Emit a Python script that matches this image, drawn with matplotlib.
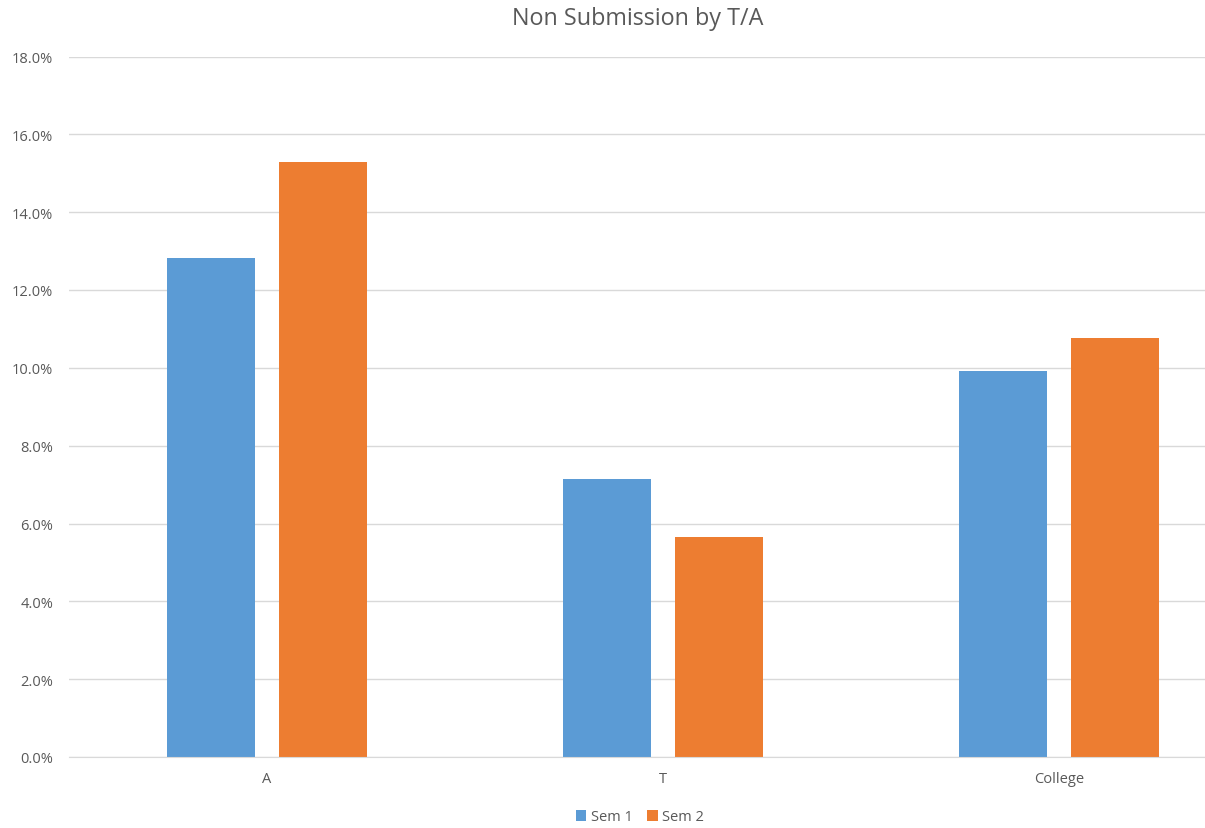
import numpy as np
import matplotlib.pyplot as plt
from matplotlib.ticker import PercentFormatter

categories = ["A", "T", "College"]
sem1 = [12.82, 7.14, 9.92]
sem2 = [15.29, 5.65, 10.77]
series_names = ["Sem 1", "Sem 2"]

blue = "#5b9bd5"
orange = "#ed7d31"
grey_text = "#595959"
grid_col = "#d9d9d9"

plt.rcParams["font.family"] = ["Open Sans", "DejaVu Sans"]

fig = plt.figure(figsize=(12.05, 8.29), dpi=100)
# plot area runs past the right edge of the figure
ax = fig.add_axes([69 / 1205, 71 / 829, 1188 / 1205, 700.5 / 829])

x = np.arange(len(categories))
w = 0.222
off = 0.141
b1 = ax.bar(x - off, sem1, w, color=blue, label=series_names[0], zorder=3)
b2 = ax.bar(x + off, sem2, w, color=orange, label=series_names[1], zorder=3)

ax.set_xlim(-0.5, 2.5)
ax.set_ylim(0, 18)
ax.set_yticks(np.arange(0, 18.1, 2))
ax.yaxis.set_major_formatter(PercentFormatter(decimals=1))
ax.set_xticks(x)
ax.set_xticklabels(categories)

ax.grid(axis="y", color=grid_col, linewidth=1, zorder=0)
for s in ["top", "right", "left"]:
    ax.spines[s].set_visible(False)
ax.spines["bottom"].set_color(grid_col)
ax.spines["bottom"].set_zorder(4)
ax.tick_params(axis="both", length=0, colors=grey_text, labelsize=10.5)
ax.tick_params(axis="y", pad=11.5)
ax.tick_params(axis="x", pad=10)

fig.text(638 / 1205, 1 - 19 / 829, "Non Submission by T/A", ha="center", va="center",
         fontsize=16.8, color=grey_text)

fig.legend(handles=[b1, b2], loc="center", bbox_to_anchor=(640 / 1205, 1 - 818 / 829),
           ncol=2, frameon=False, fontsize=10.5, labelcolor=grey_text,
           handlelength=0.7, handleheight=0.7, handletextpad=0.3, columnspacing=1.0)

fig.savefig("out.png", dpi=100)
